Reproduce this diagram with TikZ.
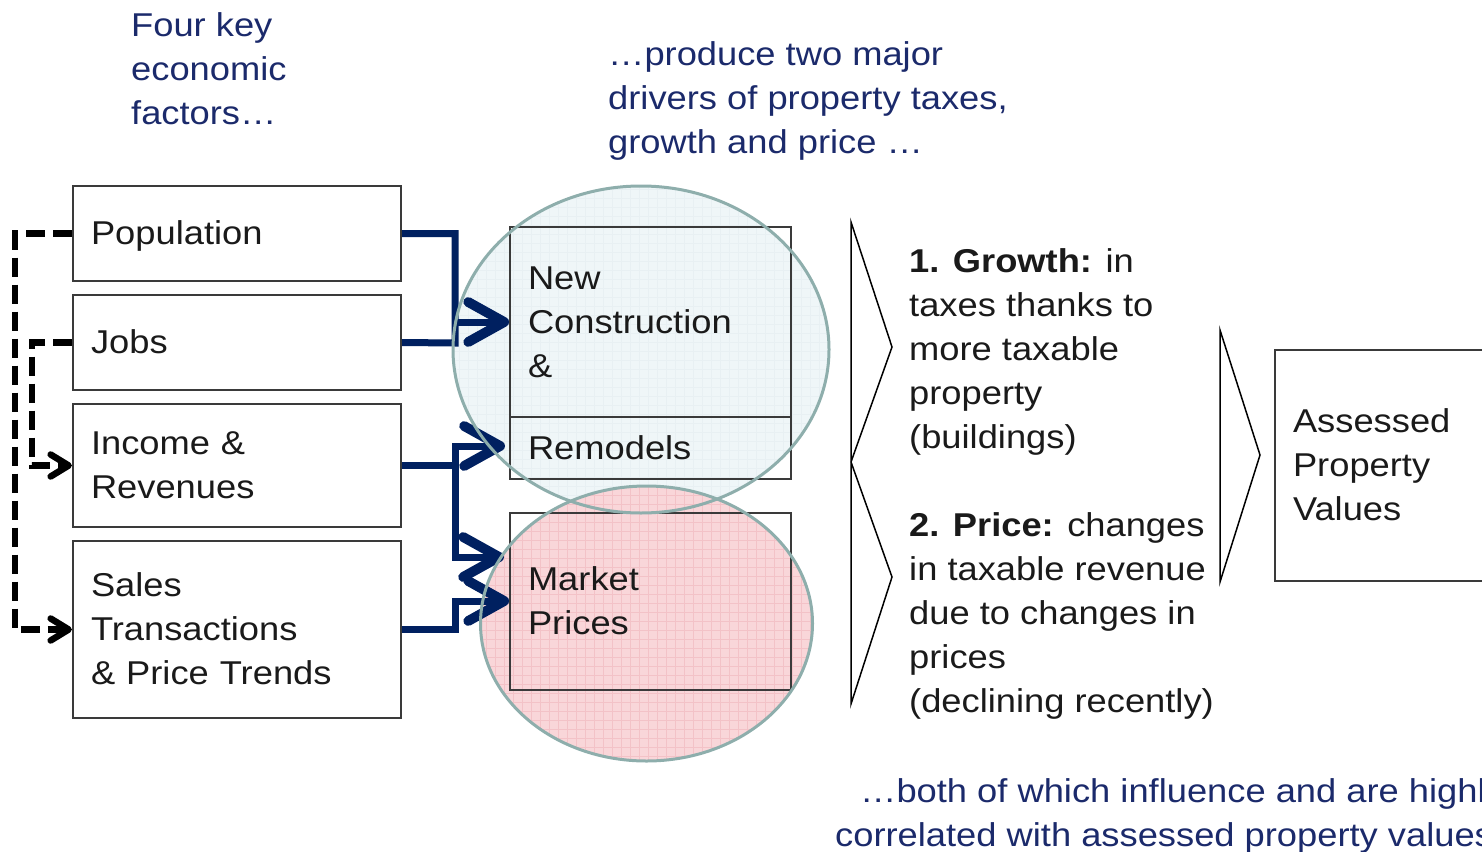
\documentclass[tikz,border=0pt]{standalone}
\usepackage{fontspec}
\setmainfont{Liberation Sans}[FakeStretch=1.1]
\usetikzlibrary{arrows.meta}
\definecolor{navy}{HTML}{002060}
\definecolor{captc}{HTML}{1B2A6B}
\definecolor{txtc}{HTML}{1A1A1A}
\definecolor{boxc}{HTML}{3A3A3A}
\definecolor{ringc}{HTML}{8EAEAC}
\definecolor{bluef}{HTML}{EFF6F8}
\definecolor{pinkf}{HTML}{F9D6D9}
\definecolor{bluegrid}{HTML}{E8F0F3}
\definecolor{pinkgrid}{HTML}{F3C2C7}
\newcommand\mystr{\rule[-11pt]{0pt}{44pt}}
\tikzset{
  bigfont/.style={font=\fontsize{33}{44}\selectfont},
  bx/.style={draw=boxc, line width=2.2pt, inner xsep=18pt, inner ysep=0pt, align=left, bigfont, text=txtc},
  lbx/.style={bx, text width=292pt, minimum width=328pt},
  mbx/.style={bx, text width=245pt, minimum width=281pt, line width=1.8pt},
  abx/.style={bx, text width=189pt, minimum width=225pt, line width=2pt},
  captxt/.style={anchor=north west, inner sep=0pt, align=left, bigfont, text=captc},
  plaintxt/.style={anchor=north west, inner sep=0pt, align=left, bigfont, text=txtc},
  bline/.style={draw=navy, line width=7pt},
  btip/.tip={Straight Barb[round,length=36pt,width=40pt,line width=0pt 1.4]},
  barrow/.style={bline, -btip},
  dsh/.style={draw=black, line width=6.5pt, dash pattern=on 19pt off 8pt, -{Straight Barb[round,length=18pt,width=22pt]}},
  chev/.style={draw=black, line width=1.5pt, line join=miter},
  ringline/.style={draw=ringc, line width=3pt},
}
\begin{document}
\begin{tikzpicture}[x=1pt,y=-1pt]
\useasboundingbox (0,0) rectangle (1482,851);
\clip (0,0) rectangle (1482,851);
% ellipse fills
\fill[bluef] (641,349.5) ellipse [x radius=188pt, y radius=163.5pt];
\begin{scope}
  \clip (641,349.5) ellipse [x radius=188pt, y radius=163.5pt];
  \draw[bluegrid, line width=0.6pt, step=9pt] (440,180) grid (840,520);
\end{scope}
\fill[pinkf] (646.5,623.5) ellipse [x radius=166pt, y radius=137.5pt];
\begin{scope}
  \clip (646.5,623.5) ellipse [x radius=166pt, y radius=137.5pt];
  \draw[pinkgrid, line width=0.6pt, step=9pt] (470,480) grid (820,770);
\end{scope}
% left boxes
\node[lbx, minimum height=95pt] (pop) at (237,233.5) {\mystr Population};
\node[lbx, minimum height=95pt] (jobs) at (237,342.5) {\mystr Jobs};
\node[lbx, minimum height=123pt] (inc) at (237,465.5) {\mystr Income \&\\\mystr Revenues};
\node[lbx, minimum height=177pt] (sales) at (237,629.5) {\mystr Sales\\\mystr Transactions\\\mystr \& Price Trends};
% middle boxes
\node[mbx, minimum height=190pt] (nc) at (650.5,322) {\mystr New\\\mystr Construction\\\mystr \&};
\node[mbx, minimum height=62pt] (rm) at (650.5,448) {\mystr Remodels};
\node[mbx, minimum height=177pt] (mp) at (650.5,601.5) {\mystr Market\\\mystr Prices};
% assessed box
\node[abx, minimum height=231pt] (av) at (1387.5,465.5) {\mystr Assessed\\\mystr Property\\\mystr Values};
% blue connectors
\coordinate (v1) at (455,343);
\coordinate (a1) at (455,322);
\coordinate (v2) at (455,446);
\coordinate (v3) at (455,557);
\coordinate (t2) at (505,446);
\coordinate (t3) at (504,557);
\coordinate (v4) at (455,601);
\draw[bline] (pop.east) -| (v1) -- (jobs.east);
\draw[barrow] (a1) -- (a1 -| nc.west);
\draw[bline] (inc.east) -- (inc.east -| v2);
\draw[bline, btip-btip] (t2) -- (v2) -- (v3) -- (t3);
\draw[barrow] (sales.east) -| (v4) -- (v4 -| mp.west);
% dashed connectors
\draw[dsh] (pop.west) -- ++(-57,0) |- (sales.west);
\draw[dsh] (jobs.west) -- ++(-40,0) |- (inc.west);
% ellipse outlines
\draw[ringline] (641,349.5) ellipse [x radius=188pt, y radius=163.5pt];
\draw[ringline] (646.5,623.5) ellipse [x radius=166pt, y radius=137.5pt];
% chevrons
\draw[chev] (851,222) -- (892,347) -- (851,462) -- (892,577) -- (851,704) -- cycle;
\draw[chev] (1220,330) -- (1260,455) -- (1220,582) -- cycle;
% texts
\node[plaintxt] (gr) at (909,239) {\mystr\textbf{1. Growth:} in\\\mystr taxes thanks to\\\mystr more taxable\\\mystr property\\\mystr (buildings)\\\mystr\\\mystr\textbf{2. Price:} changes\\\mystr in taxable revenue\\\mystr due to changes in\\\mystr prices\\\mystr (declining recently)};
\node[captxt] (c1) at (131,3) {\mystr Four key\\\mystr economic\\\mystr factors…};
\node[captxt] (c2) at (608,32) {\mystr …produce two major\\\mystr drivers of property taxes,\\\mystr growth and price …};
\node[captxt] (c3) at (835,769) {\mystr\hspace*{25pt}…both of which influence and are highly\\\mystr correlated with assessed property values};
\end{tikzpicture}
\end{document}
